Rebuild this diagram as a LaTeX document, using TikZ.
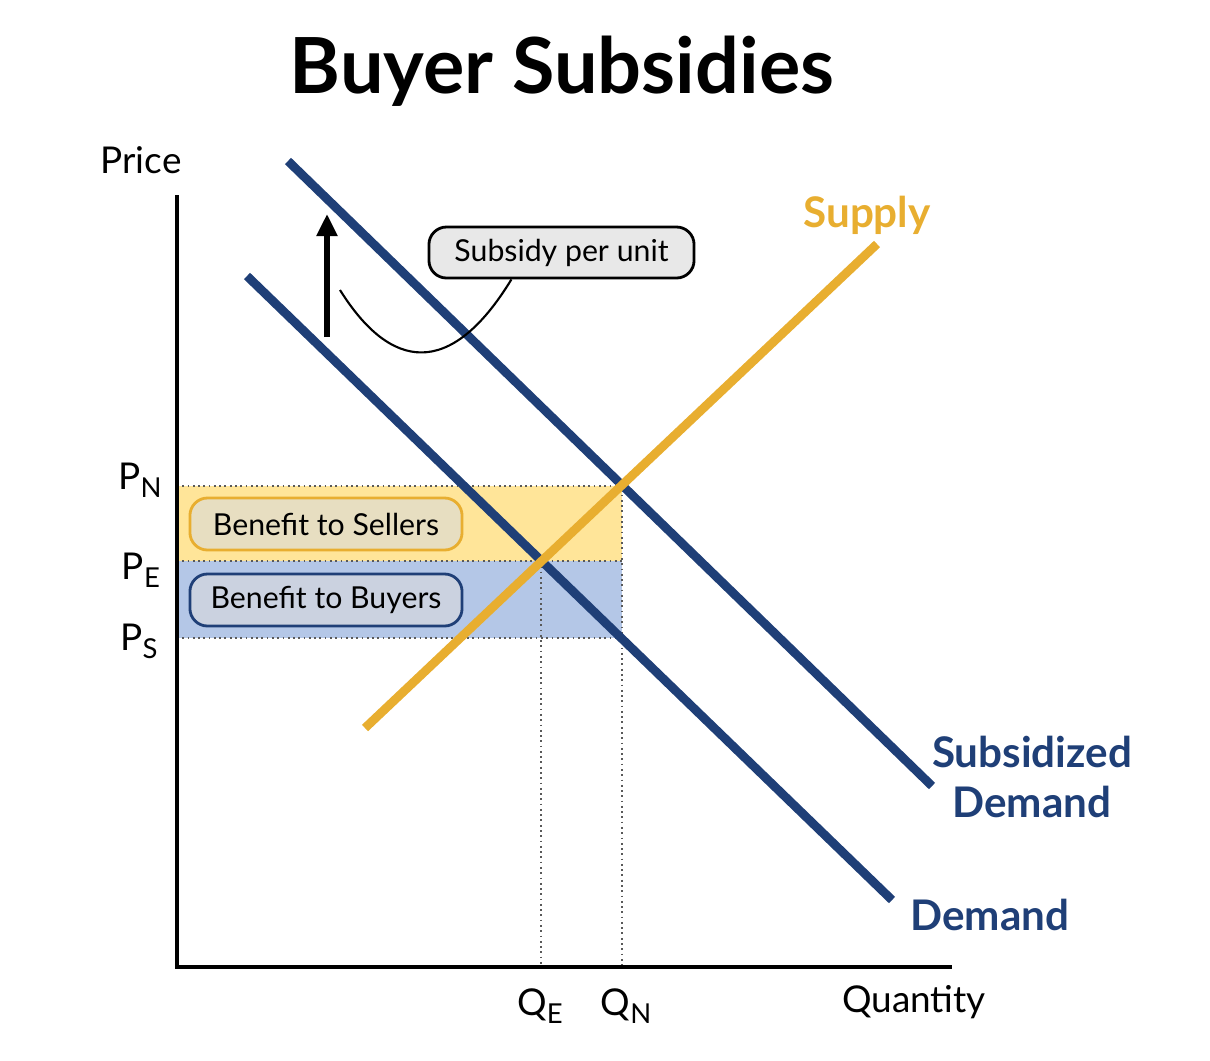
\documentclass[tikz,border=0pt]{standalone}
\usepackage{fontspec}
\setmainfont{Lato}
\usetikzlibrary{arrows.meta,calc}
\definecolor{navy}{RGB}{31,63,119}
\definecolor{gold}{RGB}{232,174,48}
\definecolor{sellarea}{RGB}{255,229,153}
\definecolor{buyarea}{RGB}{180,199,231}
\definecolor{sellbox}{RGB}{231,222,193}
\definecolor{buybox}{RGB}{203,210,224}
\definecolor{notebox}{RGB}{232,232,232}
\newcommand{\lowtag}[1]{\raisebox{-2.3pt}{\fontsize{7.8pt}{8pt}\selectfont #1}}

\begin{document}
\begin{tikzpicture}[x=0.01cm, y=-0.01cm, >=Triangle,
		curve/.style={line width=2.5pt},
		dots/.style={densely dotted, line width=0.5pt, black!65},
		tag/.style={anchor=base, inner sep=0pt, font=\fontsize{10.5pt}{12pt}\selectfont},
		boxtag/.style={draw, rounded corners=5pt, line width=0.8pt, minimum width=2.72cm, minimum height=0.52cm, inner sep=0pt, font=\fontsize{8.6pt}{10pt}\selectfont},
		curvetag/.style={font=\bfseries\fontsize{12pt}{14.2pt}\selectfont, inner sep=0pt}]
		\useasboundingbox (0,0) rectangle (1210,1060);
		% key points
		\coordinate (O) at (177,967);
		\coordinate (E) at (541,561);
		\coordinate (N) at (622,486);
		\coordinate (S) at (622,638);
		% shaded areas and dotted guides
		\fill[sellarea] (O |- N) rectangle (E -| N);
		\fill[buyarea] (O |- E) rectangle (S);
		\draw[dots] (O |- N) -- (N) -- (N |- O);
		\draw[dots] (O |- E) -- (E -| N);
		\draw[dots] (O |- S) -- (S);
		\draw[dots] (E) -- (E |- O);
		% title
		\node[anchor=base, inner sep=0pt, font=\bfseries\fontsize{22pt}{24pt}\selectfont] (title) at (562,93) {Buyer Subsidies};
		% axes
		\coordinate (ytop) at (177,195);
		\coordinate (xend) at (952,967);
		\draw[line width=1.2pt] (ytop) -- (O.center) -- (xend);
		\node[tag] (price) at (141,173) {Price};
		\node[tag] (quantity) at (914,1012) {Quantity};
		\node[tag] (pn) at (140,489) {P\lowtag{N}};
		\node[tag] (pe) at (141,579) {P\lowtag{E}};
		\node[tag] (ps) at (139,650) {P\lowtag{S}};
		\node[tag] (qe) at (540,1015) {Q\lowtag{E}};
		\node[tag] (qn) at (626,1015) {Q\lowtag{N}};
		% benefit boxes
		\node[boxtag, draw=gold, fill=sellbox] (sellers) at (326,524) {Benefit to Sellers};
		\node[boxtag, draw=navy, fill=buybox] (buyers) at (326,600) {Benefit to Buyers};
		% demand curves
		\coordinate (d1) at (247,276);
		\coordinate (d2) at (892,900);
		\coordinate (sd1) at (288,161);
		\coordinate (sd2) at (932,786);
		\draw[curve, navy] (d1) -- (d2);
		\draw[curve, navy] (sd1) -- (sd2);
		% supply curve
		\coordinate (s1) at (365,728);
		\coordinate (s2) at (877,244);
		\draw[curve, gold] (s1) -- (s2);
		\node[curvetag, text=gold, anchor=base] (supply) at (867,227) {Supply};
		\node[curvetag, text=navy, align=center] (subdemand) at (1032,777) {Subsidized\\Demand};
		\node[curvetag, text=navy, anchor=base] (demand) at (990,930) {Demand};
		% subsidy shift arrow and callout
		\coordinate (shift0) at (327,337);
		\coordinate (shift1) at (327,214);
		\draw[->, line width=1.5pt, >={Triangle[width=0.2cm, length=0.22cm]}] (shift0) -- (shift1);
		\node[draw, rounded corners=5pt, line width=0.8pt, fill=notebox, minimum width=2.65cm, minimum height=0.51cm, inner sep=0pt, font=\fontsize{8.6pt}{10pt}\selectfont] (subsidy) at (561.5,252.5) {Subsidy per unit};
		\coordinate (hook) at (340,290);
		\draw[line width=0.6pt] (hook) .. controls (390,370) and (450,380) .. ($(subsidy.south west)!0.313!(subsidy.south east)$);
	\end{tikzpicture}
\end{document}
